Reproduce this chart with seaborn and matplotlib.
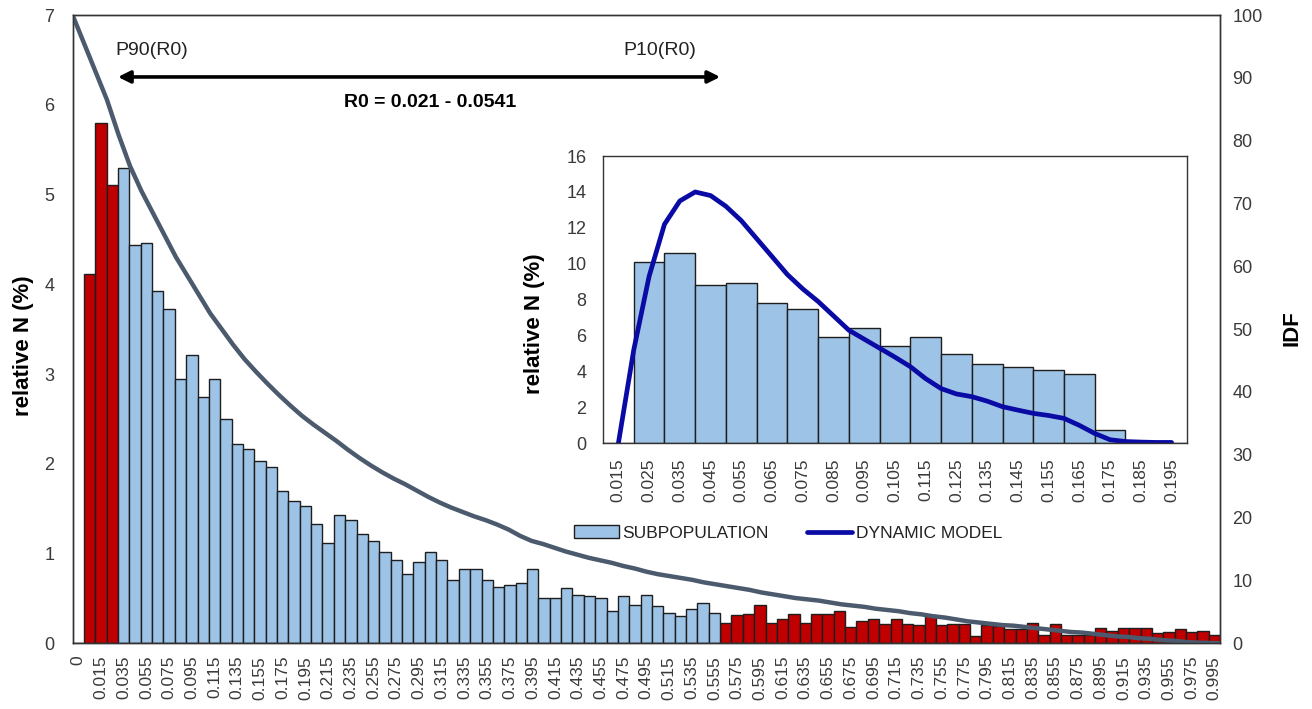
import numpy as np
import pandas as pd
import matplotlib
matplotlib.use("Agg")
import matplotlib.pyplot as plt
import seaborn as sns
from matplotlib.patches import Patch
from matplotlib.lines import Line2D

sns.set_style("white")
plt.rcParams['font.family'] = ['Liberation Sans', 'DejaVu Sans']

# ---------------- data ----------------
categories = [
    "0", "0.005", "0.015", "0.025", "0.035", "0.045", "0.055", "0.065", "0.075", "0.085", "0.095",
    "0.105", "0.115", "0.125", "0.135", "0.145", "0.155", "0.165", "0.175", "0.185", "0.195",
    "0.205", "0.215", "0.225", "0.235", "0.245", "0.255", "0.265", "0.275", "0.285", "0.295",
    "0.305", "0.315", "0.325", "0.335", "0.345", "0.355", "0.365", "0.375", "0.385", "0.395",
    "0.405", "0.415", "0.425", "0.435", "0.445", "0.455", "0.465", "0.475", "0.485", "0.495",
    "0.505", "0.515", "0.525", "0.535", "0.545", "0.555", "0.565", "0.575", "0.585", "0.595",
    "0.605", "0.615", "0.625", "0.635", "0.645", "0.655", "0.665", "0.675", "0.685", "0.695",
    "0.705", "0.715", "0.725", "0.735", "0.745", "0.755", "0.765", "0.775", "0.785", "0.795",
    "0.805", "0.815", "0.825", "0.835", "0.845", "0.855", "0.865", "0.875", "0.885", "0.895",
    "0.905", "0.915", "0.925", "0.935", "0.945", "0.955", "0.965", "0.975", "0.985", "0.995",
]

rel_n = [
    0.00, 4.12, 5.80, 5.11, 5.30, 4.44, 4.46, 3.93, 3.73, 2.94, 3.21,
    2.74, 2.94, 2.50, 2.22, 2.16, 2.03, 1.96, 1.70, 1.59, 1.53,
    1.33, 1.12, 1.43, 1.37, 1.22, 1.14, 1.02, 0.93, 0.77, 0.91,
    1.02, 0.93, 0.70, 0.83, 0.83, 0.71, 0.63, 0.65, 0.67, 0.83,
    0.51, 0.51, 0.62, 0.54, 0.53, 0.51, 0.36, 0.53, 0.43, 0.54,
    0.41, 0.34, 0.30, 0.38, 0.45, 0.34, 0.23, 0.31, 0.33, 0.43,
    0.23, 0.27, 0.33, 0.23, 0.33, 0.33, 0.36, 0.18, 0.25, 0.27,
    0.21, 0.27, 0.21, 0.20, 0.31, 0.20, 0.21, 0.21, 0.08, 0.20,
    0.19, 0.16, 0.16, 0.23, 0.09, 0.21, 0.09, 0.09, 0.09, 0.17,
    0.14, 0.17, 0.17, 0.17, 0.11, 0.13, 0.16, 0.13, 0.14, 0.09,
]

group = ["outside"] * 4 + ["inside"] * 53 + ["outside"] * 44

idf = [
    100, 95.5, 91, 86.5, 81, 76, 72, 68.5, 65, 61.5, 58.5,
    55.5, 52.5, 50, 47.5, 45.2, 43.2, 41.3, 39.5, 37.8, 36.2,
    34.8, 33.5, 32.2, 30.8, 29.5, 28.3, 27.2, 26.2, 25.3, 24.3,
    23.3, 22.4, 21.6, 20.9, 20.2, 19.6, 18.9, 18.1, 17.1, 16.3,
    15.8, 15.2, 14.6, 14.1, 13.6, 13.2, 12.8, 12.3, 11.9, 11.4,
    11.0, 10.7, 10.4, 10.1, 9.7, 9.4, 9.1, 8.8, 8.5, 8.1,
    7.8, 7.5, 7.2, 7.0, 6.8, 6.5, 6.2, 6.0, 5.8, 5.5,
    5.3, 5.1, 4.8, 4.6, 4.3, 4.1, 3.8, 3.5, 3.3, 3.1,
    2.9, 2.8, 2.6, 2.4, 2.2, 2.0, 1.8, 1.7, 1.5, 1.3,
    1.1, 1.0, 0.8, 0.7, 0.5, 0.4, 0.2, 0.1, 0.05, 0.0, 0.0,
]

inset_cats = ["0.015", "0.025", "0.035", "0.045", "0.055", "0.065", "0.075", "0.085", "0.095",
              "0.105", "0.115", "0.125", "0.135", "0.145", "0.155", "0.165", "0.175", "0.185", "0.195"]
inset_vals = [0, 10.11, 10.58, 8.83, 8.92, 7.83, 7.46, 5.90, 6.44, 5.44,
              5.90, 4.97, 4.42, 4.23, 4.08, 3.86, 0.74, 0, 0]

# dynamic model read at every half category step (0.015 ... 0.195)
model_vals = [0, 5.2, 9.3, 12.2, 13.5, 14.0, 13.8, 13.2, 12.4, 11.4,
              10.4, 9.4, 8.6, 7.9, 7.1, 6.3, 5.8, 5.3, 4.8, 4.27,
              3.6, 3.05, 2.75, 2.6, 2.35, 2.04, 1.85, 1.67, 1.55, 1.39,
              1.0, 0.55, 0.2, 0.1, 0.07, 0.05, 0.05]

# ---------------- styling ----------------
RED = "#C00000"
BLUE = "#9DC3E6"
EDGE = "#1E1E1E"
IDF_COL = "#4B5A6D"
MODEL_COL = "#0A0AA5"
TICK_COL = "#3A3A3A"

fig = plt.figure(figsize=(13.12, 7.09), dpi=100)
ax = fig.add_axes([0.0553, 0.0927, 0.8746, 0.8861])

df = pd.DataFrame({"cat": categories, "val": rel_n, "grp": group})
sns.barplot(data=df, x="cat", y="val", hue="grp", order=categories,
            palette={"outside": RED, "inside": BLUE}, saturation=1, dodge=False, width=1.0,
            edgecolor=EDGE, linewidth=1.0, errorbar=None, legend=False, ax=ax)

ax.set_xlim(-0.5, 100.5)
ax.set_ylim(0, 7)
ax.set_yticks(range(0, 8))
ax.set_xticks(range(0, 101, 2))
ax.set_xticklabels(categories[::2], rotation=90)
ax.tick_params(axis="x", length=0, pad=9, labelsize=12.5, labelcolor=TICK_COL)
ax.tick_params(axis="y", length=0, pad=13, labelsize=13, labelcolor=TICK_COL)
ax.set_xlabel("")
ax.set_ylabel("relative N (%)", fontsize=16, fontweight="bold", color="black")
ax.yaxis.set_label_coords(-0.0336, 0.473)
for s in ax.spines.values():
    s.set_color("#333333")
    s.set_linewidth(1.0)

# IDF on secondary axis
ax2 = ax.twinx()
idf_pos = np.arange(len(idf)) * (101 / 100) - 0.5
sns.lineplot(x=idf_pos, y=idf, ax=ax2, color=IDF_COL, linewidth=3.2)
ax2.set_ylim(0, 100)
ax2.set_yticks(range(0, 101, 10))
ax2.tick_params(axis="y", length=0, pad=9, labelsize=13, labelcolor=TICK_COL)
ax2.set_ylabel("IDF", fontsize=16, fontweight="bold", color="black")
ax2.yaxis.set_label_coords(1.0537, 0.502)
ax.set_xlim(-0.5, 100.5)
for s in ax2.spines.values():
    s.set_color("#333333")
    s.set_linewidth(1.0)

# annotations
ax.annotate("", xy=(3.5, 6.31), xytext=(56.5, 6.31),
            arrowprops=dict(arrowstyle="<|-|>", color="black", lw=2.6,
                            mutation_scale=18, shrinkA=0, shrinkB=0))
ax.text(3.3, 6.61, "P90(R0)", ha="left", va="center", fontsize=14, color="#222222")
ax.text(54.4, 6.61, "P10(R0)", ha="right", va="center", fontsize=14, color="#222222")
ax.text(31.0, 6.03, "R0 = 0.021 - 0.0541", ha="center", va="center",
        fontsize=14, fontweight="bold", color="black")

# ---------------- inset ----------------
axin = fig.add_axes([0.4596, 0.3747, 0.4451, 0.4052])
axin.set_facecolor("white")
sns.barplot(x=inset_cats, y=inset_vals, order=inset_cats, color=BLUE, saturation=1, width=1.0,
            edgecolor=EDGE, linewidth=1.0, errorbar=None, ax=axin)
model_pos = np.arange(len(model_vals)) * 0.5
sns.lineplot(x=model_pos, y=model_vals, ax=axin, color=MODEL_COL, linewidth=3.4)
axin.set_xlim(-0.5, 18.5)
axin.set_ylim(0, 16)
axin.set_yticks(range(0, 17, 2))
axin.set_xticks(range(len(inset_cats)))
axin.set_xticklabels(inset_cats, rotation=90)
axin.tick_params(axis="x", length=0, pad=11, labelsize=12.5, labelcolor=TICK_COL)
axin.tick_params(axis="y", length=0, pad=12, labelsize=13, labelcolor=TICK_COL)
axin.set_xlabel("")
axin.set_ylabel("relative N (%)", fontsize=16, fontweight="bold", color="black")
axin.yaxis.set_label_coords(-0.0993, 0.417)
for s in axin.spines.values():
    s.set_color("#333333")
    s.set_linewidth(1.0)

handles = [Patch(facecolor=BLUE, edgecolor=EDGE, linewidth=1.0),
           Line2D([0], [0], color=MODEL_COL, linewidth=3.4)]
fig.legend(handles, ["SUBPOPULATION", "DYNAMIC MODEL"], loc="center",
           bbox_to_anchor=(0.6006, 0.2482), ncol=2, frameon=False,
           fontsize=12.5, handlelength=2.6, handleheight=0.8,
           columnspacing=2.2, handletextpad=0.2, labelcolor="#222222")

fig.savefig("out.png", dpi=100)
